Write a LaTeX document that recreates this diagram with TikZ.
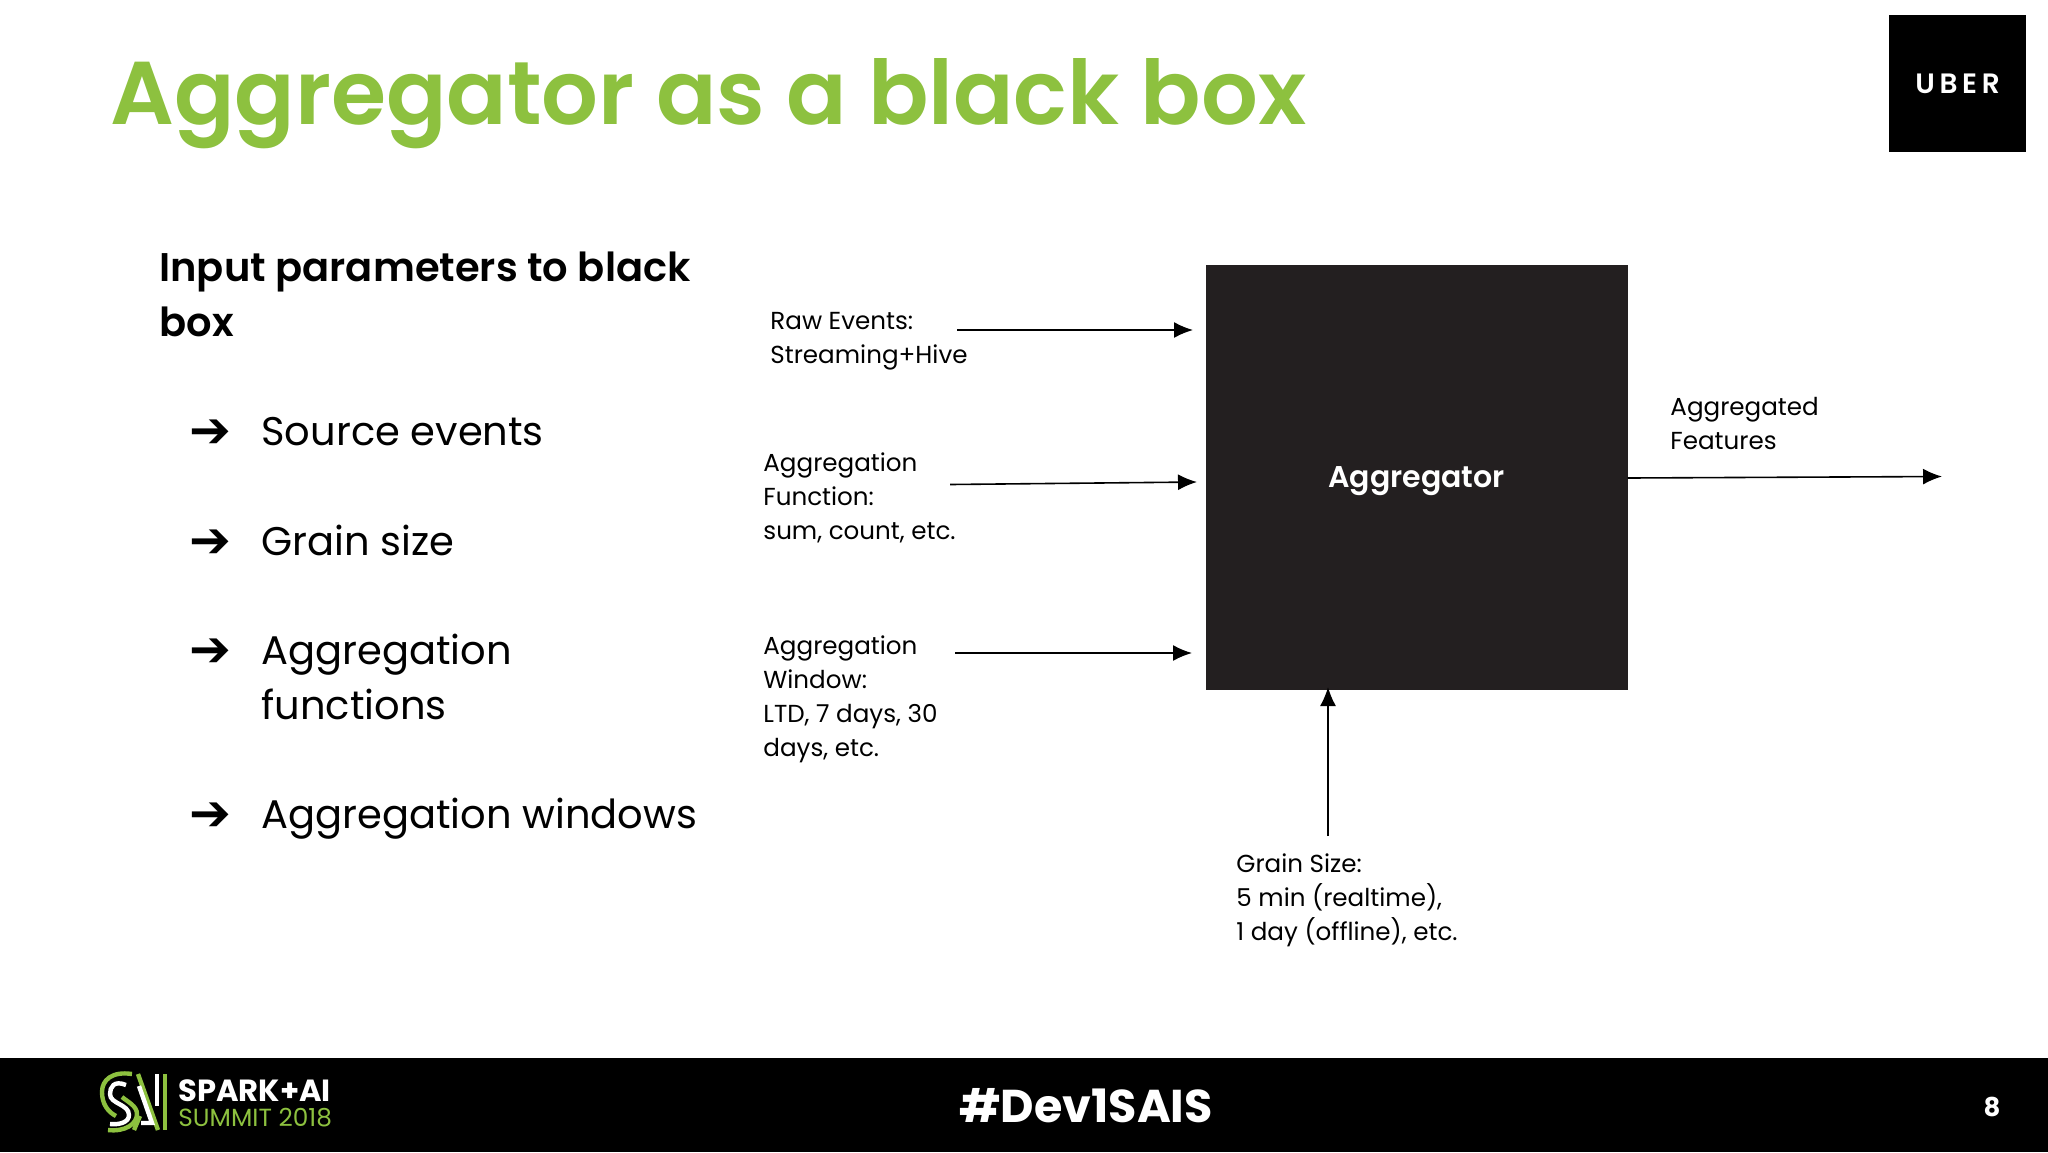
\documentclass[tikz,border=0pt]{standalone}
\usepackage{fontspec}
\setmainfont{Poppins}
\newfontfamily\semfont{Poppins SemiBold}
\newfontfamily\symfont{DejaVu Sans}
\usetikzlibrary{arrows.meta,positioning}
\definecolor{accgreen}{HTML}{8DC13F}
\definecolor{boxdark}{HTML}{231F20}
\begin{document}
\begin{tikzpicture}[x=0.5pt,y=-0.5pt,node distance=10pt,
  lbl/.style={anchor=north west,inner sep=0pt,align=left,font=\fontsize{12.3}{17}\selectfont},
  itm/.style={anchor=base west,inner sep=0pt,align=left,font=\fontsize{20}{27.5}\selectfont},
  mrk/.style={anchor=base west,inner sep=0pt,font=\fontsize{25}{26}\selectfont\symfont},
  lnk/.style={-{Latex[length=9.5pt,width=8pt]},line width=0.8pt},
  logog/.style={draw=accgreen,line width=2.2pt},
  logow/.style={draw=white,line width=2.2pt}]
\useasboundingbox (0,0) rectangle (2048,1152);
\fill[white] (0,0) rectangle (2048,1152);
\node[anchor=base west,inner sep=0pt,text=accgreen,font=\fontsize{44.6}{48}\selectfont\semfont] (title) at (110,124) {Aggregator as a black box};
\node[fill=black,minimum size=68.5pt,inner sep=0pt,text=white,font=\fontsize{14}{14}\selectfont\semfont] (uber) at (1957.5,83.5) {U\,B\,E\,R};
% left column
\node[anchor=north west,inner sep=0pt,align=left,font=\fontsize{20}{27.5}\selectfont\semfont] (head) at (159,251) {Input parameters to black\\box};
\node[itm] (it1) at (261,445) {Source events};
\node[itm] (it2) at (261,555) {Grain size};
\node[itm] (it3) at (261,664) {Aggregation};
\node[itm] (it3b) at (261,719) {functions};
\node[itm] (it4) at (261,828) {Aggregation windows};
\node[mrk] (m1) at (189,447) {\char"2794};
\node[mrk] (m2) at (189,557) {\char"2794};
\node[mrk] (m3) at (189,666) {\char"2794};
\node[mrk] (m4) at (189,830) {\char"2794};
% black box
\node[fill=boxdark,minimum width=211pt,minimum height=212.5pt,inner sep=0pt,text depth=0pt,text=white,font=\fontsize{15}{15}\selectfont\semfont] (agg) at (1416.5,477.5) {Aggregator};
\node[lbl] (raw) at (770,312) {Raw Events:\\Streaming+Hive};
\node[lbl] (fun) at (763,452) {Aggregation\\Function:\\sum, count, etc.};
\node[lbl] (win) at (763,635) {Aggregation\\Window:\\LTD, 7 days, 30\\days, etc.};
\node[lbl] (grn) at (1236,853) {Grain Size:\\5 min (realtime),\\1 day (offline), etc.};
\node[lbl] (out) at (1670,397) {Aggregated\\Features};
\coordinate (a1) at (957,330);\coordinate (b1) at (1193,330);
\coordinate (a2) at (950,484.5);\coordinate (b2) at (1197,482);
\coordinate (a3) at (955,653);\coordinate (b3) at (1192,653);
\coordinate (a4) at (1328,836);\coordinate (b4) at (1328,687);
\coordinate (a5) at (1627.5,478);\coordinate (b5) at (1942,476.5);
\draw[lnk] (a1)--(b1);\draw[lnk] (a2)--(b2);\draw[lnk] (a3)--(b3);
\draw[lnk] (a4)--(b4);\draw[lnk] (a5)--(b5);
% footer
\fill[black] (0,1058) rectangle (2048,1152);
\node[anchor=base,inner sep=0pt,text=white,font=\fontsize{23}{24}\selectfont\bfseries] (tag) at (1086,1122) {\#Dev1SAIS};
\node[anchor=base,inner sep=0pt,text=white,font=\fontsize{13}{14}\selectfont\bfseries] (pg) at (1992,1116) {8};
\node[anchor=base west,inner sep=0pt,text=white,font=\fontsize{15.3}{16}\selectfont\bfseries] (spk) at (178,1101) {SPARK+AI};
\node[anchor=base west,inner sep=0pt,text=accgreen,font=\fontsize{12.4}{14}\selectfont] (smt) at (178,1126) {SUMMIT 2018};
% logo
\draw[logog] (132,1074) .. controls (112,1071) and (102,1080) .. (102,1092) .. controls (102,1104) and (108,1112) .. (116,1116);
\draw[logow] (126,1085) .. controls (114,1080) and (110,1087) .. (110,1094) .. controls (110,1104) and (129,1104) .. (129,1115) .. controls (129,1122) and (120,1125) .. (110,1124);
\draw[logog] (108,1130) .. controls (125,1132) and (137,1124) .. (137,1114) .. controls (137,1106) and (128,1102) .. (122,1097);
\draw[logog] (138,1074) -- (158,1130);
\draw[logog] (165,1074) -- (165,1130);
\draw[logog] (134,1130) -- (140,1116);
\draw[logow] (139,1086) -- (152,1123) -- (141,1123);
\draw[logow] (157,1074) -- (157,1106);
\end{tikzpicture}
\end{document}
